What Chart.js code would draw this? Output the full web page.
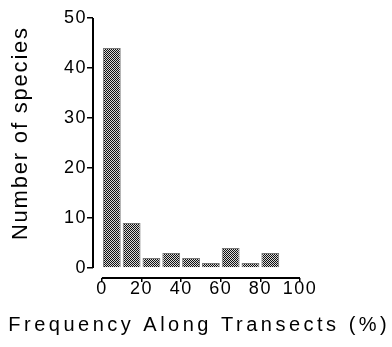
<!DOCTYPE html>
<html>
<head>
<meta charset="utf-8">
<script src="https://cdn.jsdelivr.net/npm/chart.js@4.4.1/dist/chart.umd.min.js"></script>
<style>
html, body { margin: 0; padding: 0; background: #fff; }
canvas { display: block; }
</style>
</head>
<body>
<canvas id="histogram" width="392" height="347"></canvas>
<script>
// classes de frequencia (% dos transectos), largura 10
const binStarts = [0, 10, 20, 30, 40, 50, 60, 70, 80];
const speciesCounts = [44, 9, 2, 3, 2, 1, 4, 1, 3];
const binWidth = 10;
const xTickValues = [0, 20, 40, 60, 80, 100];
const yTickValues = [0, 10, 20, 30, 40, 50];
const xTitle = 'Frequency Along Transects (%)';
const yTitle = 'Number of species';

const canvas = document.getElementById('histogram');
const ctx = canvas.getContext('2d');

// textura quadriculada das barras
function checkerPattern() {
    const c = document.createElement('canvas');
    c.width = 2;
    c.height = 2;
    const g = c.getContext('2d');
    g.fillStyle = '#d8d8d8';
    g.fillRect(0, 0, 2, 2);
    g.fillStyle = '#111';
    g.fillRect(0, 0, 1, 1);
    g.fillRect(1, 1, 1, 1);
    return ctx.createPattern(c, 'repeat');
}

const axesAndTitles = {
    id: 'axesAndTitles',
    beforeDraw(chart) {
        chart.ctx.letterSpacing = '1.5px';
    },
    afterDraw(chart) {
        const c = chart.ctx;
        const xs = chart.scales.x;
        const ys = chart.scales.y;
        const area = chart.chartArea;

        c.save();
        c.strokeStyle = '#000';
        c.lineWidth = 2;
        c.beginPath();
        c.moveTo(area.left, ys.getPixelForValue(yTickValues[yTickValues.length - 1]));
        c.lineTo(area.left, ys.getPixelForValue(yTickValues[0]));
        c.moveTo(xs.getPixelForValue(xTickValues[0]), area.bottom);
        c.lineTo(xs.getPixelForValue(xTickValues[xTickValues.length - 1]), area.bottom);
        c.stroke();

        c.fillStyle = '#000';
        c.textAlign = 'center';
        c.textBaseline = 'alphabetic';

        c.font = '20px "Liberation Sans", Arial, sans-serif';
        c.letterSpacing = '3.5px';
        c.fillText(xTitle, 197.5 + 1.75, 331);

        c.translate(27, 134);
        c.rotate(-Math.PI / 2);
        c.font = '22px "Liberation Sans", Arial, sans-serif';
        c.letterSpacing = '1.8px';
        c.fillText(yTitle, 0.9, 0);
        c.restore();
    }
};

new Chart(ctx, {
    type: 'bar',
    data: {
        datasets: [{
            data: binStarts.map((start, i) => ({ x: start + binWidth / 2, y: speciesCounts[i] })),
            backgroundColor: checkerPattern(),
            borderColor: '#777',
            borderWidth: 1,
            barPercentage: 0.9,
            categoryPercentage: 1
        }]
    },
    options: {
        responsive: false,
        animation: false,
        layout: {
            padding: { top: 18, right: 92, bottom: 0, left: 0 }
        },
        plugins: {
            legend: { display: false },
            tooltip: { enabled: false }
        },
        scales: {
            x: {
                type: 'linear',
                min: -4.5,
                max: 100,
                offset: false,
                afterBuildTicks: scale => { scale.ticks = xTickValues.map(v => ({ value: v })); },
                afterFit: scale => { scale.height = 69; },
                border: { display: false },
                grid: {
                    offset: false,
                    drawOnChartArea: false,
                    drawTicks: true,
                    tickLength: 4,
                    color: '#000',
                    lineWidth: 1.5
                },
                ticks: {
                    padding: -4,
                    autoSkip: false,
                    maxRotation: 0,
                    minRotation: 0,
                    color: '#000',
                    font: { size: 18, family: '"Liberation Sans", Arial, sans-serif' }
                }
            },
            y: {
                min: -2,
                max: 50,
                afterBuildTicks: scale => { scale.ticks = yTickValues.map(v => ({ value: v })); },
                afterFit: scale => { scale.width = 93; },
                border: { display: false },
                grid: {
                    drawOnChartArea: false,
                    drawTicks: true,
                    tickLength: 6,
                    color: '#000',
                    lineWidth: 1.5
                },
                ticks: {
                    padding: 0,
                    color: '#000',
                    font: { size: 18, family: '"Liberation Sans", Arial, sans-serif' }
                }
            }
        }
    },
    plugins: [axesAndTitles]
});
</script>
</body>
</html>
